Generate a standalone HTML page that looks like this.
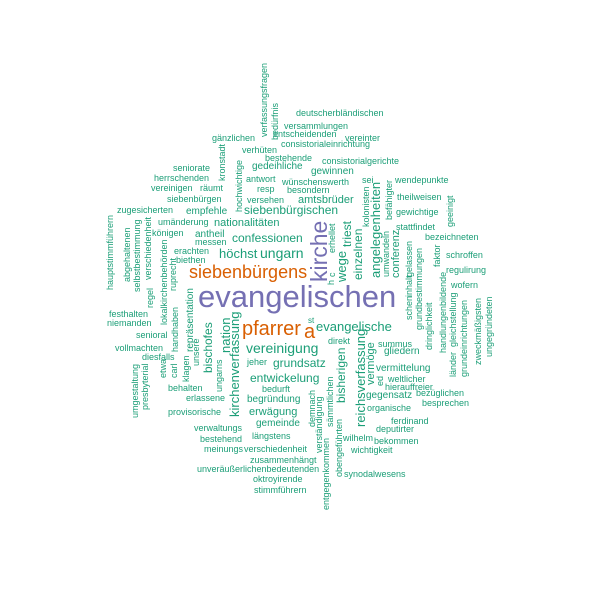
<!DOCTYPE html>
<html><head><meta charset="utf-8"><style>
html,body{margin:0;padding:0;background:#fff;}
svg{display:block;}
text{font-family:"Liberation Sans",sans-serif;}
</style></head><body>
<svg id="cloud" width="600" height="600" viewBox="0 0 600 600" xmlns="http://www.w3.org/2000/svg">
<rect width="600" height="600" fill="#fff"/>
</svg>
<script>
// words, font sizes (frequency-driven), colours
const words = ["evangelischen","kirche","siebenbürgens","pfarrer","a","evangelische","vereinigung","höchst","ungarn","confessionen","siebenbürgischen","grundsatz","entwickelung","amtsbrüder","nationalitäten","erwägung","begründung","gemeinde","gliedern","vermittelung","gegensatz","empfehle","antheil","gedeihliche","gewinnen","deutscherbländischen","versammlungen","entscheidenden","vereinter","consistorialeinrichtung","gänzlichen","verhüten","bestehende","consistorialgerichte","seniorate","herrschenden","antwort","wünschenswerth","sei","wendepunkte","vereinigen","räumt","resp","besondern","siebenbürgen","versehen","theilweisen","zugesicherten","gewichtige","umänderung","königen","stattfindet","bezeichneten","messen","erachten","biethen","schroffen","regulirung","wofern","festhalten","niemanden","st","senioral","vollmachten","direkt","summus","jeher","diesfalls","weltlicher","behalten","bedurft","hierauffreier","bezüglichen","erlassene","organische","besprechen","provisorische","ferdinand","verwaltungs","deputirter","bestehend","längstens","wilhelm","bekommen","meinungs","verschiedenheit","wichtigkeit","zusammenhängt","unveräußerlichenbedeutenden","synodalwesens","oktroyirende","stimmführern",
"verfassungsfragen","bedürfnis","kronstadt","hochwichtige","hauptstimmführern","abgehaltenen","selbstbestimmung","verschiedenheit","regel","lokalkirchenbehörden","ruprecht","handhaben","repräsentation","carl","klagen","unsere","etwa","umgestaltung","presbyterial","bischofes","ungarns","nation","kirchenverfassung","h","c","erhellet","wege","triest","einzelnen","kolonisten","angelegenheiten","befähigter","umwandeln","conferenz","geeinigt","faktor","gelassen","inhalt","schen","grundbestimmungen","dringlichkeit","handlungenbildende","gleichstellung","länder","grundeinrichtungen","zweckmäßigsten","ungegründeten","demnach","verständigung","entgegenkommen","sämmtlichen","obengeführten","bisherigen","reichsverfassung","vermöge","ed"];
const sizes = [31,23,18,20,20,13,14,13,14,12,12,12,12,11,11,11,10,10,10,10,10,10,10,10,10,9,9,9,9,9,9,9,9,9,9,9,9,9,9,9,9,9,9,9,9,9,9,9,9,9,9,9,9,9,9,9,9,9,9,9,9,8,9,9,9,9,9,9,9,9,9,9,9,9,9,9,9,9,9,9,9,9,9,9,9,9,9,9,9,9,9,9,
9,9,9,9,9,9,9,9,9,9,9,9,10,9,9,9,9,9,9,12,9,13,13,9,9,9,13,12,12,9,13,9,9,11,9,9,9,9,9,9,9,9,9,9,9,9,9,9,9,9,9,9,12,13,11,9];
const colors = {big:"#7570b3", mid:"#d95f02", small:"#1b9e77"};
// layout: [x, y, rotated]
const layout = [[198,307,0],[327,282,1],[189,278,0],[242,335,0],[304,338,0],[316,331,0],[246,353,0],[219,258,0],[260,258,0],[232,242,0],[244,214,0],[273,367,0],[250,382,0],[298,203,0],[214,226,0],[249,415,0],[247,402,0],[256,426,0],[384,354,0],[376,371,0],[366,398,0],[186,214,0],[195,237,0],[252,169,0],[311,174,0],[296,116,0],[284,129,0],[273,137,0],[345,141,0],[281,147,0],[212,141,0],[242,153,0],[265,161,0],[322,164,0],[173,171,0],[154,181,0],[246,182,0],[282,185,0],[362,183,0],[395,183,0],[151,191,0],[200,191,0],[257,192,0],[287,193,0],[167,202,0],[247,203,0],[397,200,0],[117,213,0],[396,215,0],[158,225,0],[152,236,0],[396,230,0],[425,240,0],[195,245,0],[174,254,0],[176,263,0],[446,258,0],[446,273,0],[451,288,0],[109,317,0],[107,326,0],[308,323,0],[136,338,0],[115,351,0],[328,344,0],[378,347,0],[247,365,0],[142,360,0],[388,382,0],[168,391,0],[262,392,0],[385,390,0],[416,396,0],[186,401,0],[367,411,0],[422,406,0],[168,415,0],[391,424,0],[194,431,0],[376,432,0],[200,442,0],[252,439,0],[343,441,0],[374,444,0],[204,452,0],[244,452,0],[351,453,0],[250,463,0],[197,472,0],[344,477,0],[253,482,0],[254,493,0],
[267,137,1],[278,140,1],[225,181,1],[242,212,1],[113,290,1],[130,282,1],[140,292,1],[151,280,1],[153,308,1],[167,325,1],[176,291,1],[178,352,1],[193,352,1],[177,378,1],[189,382,1],[199,366,1],[166,378,1],[138,418,1],[148,410,1],[212,373,1],[222,392,1],[230,353,1],[239,417,1],[334,285,1],[335,277,1],[335,253,1],[346,282,1],[351,247,1],[362,280,1],[369,227,1],[380,278,1],[392,220,1],[389,277,1],[399,278,1],[453,227,1],[440,267,1],[412,277,1],[412,297,1],[412,320,1],[422,330,1],[432,350,1],[446,353,1],[456,347,1],[456,377,1],[467,377,1],[481,365,1],[492,357,1],[315,427,1],[322,453,1],[329,510,1],[333,427,1],[342,477,1],[345,403,1],[365,427,1],[374,385,1],[383,386,1]];

const svg = document.getElementById('cloud');
const NS = "http://www.w3.org/2000/svg";
for (let i = 0; i < words.length; i++) {
  const t = document.createElementNS(NS, 'text');
  const fs = sizes[i];
  const [x, y, r] = layout[i];
  t.setAttribute('font-size', fs);
  t.setAttribute('fill', fs >= 21 ? colors.big : (fs >= 16 ? colors.mid : colors.small));
  if (r) t.setAttribute('transform', `translate(${x},${y}) rotate(-90)`);
  else { t.setAttribute('x', x); t.setAttribute('y', y); }
  t.textContent = words[i];
  
  
  svg.appendChild(t);
}
</script>
</body></html>
